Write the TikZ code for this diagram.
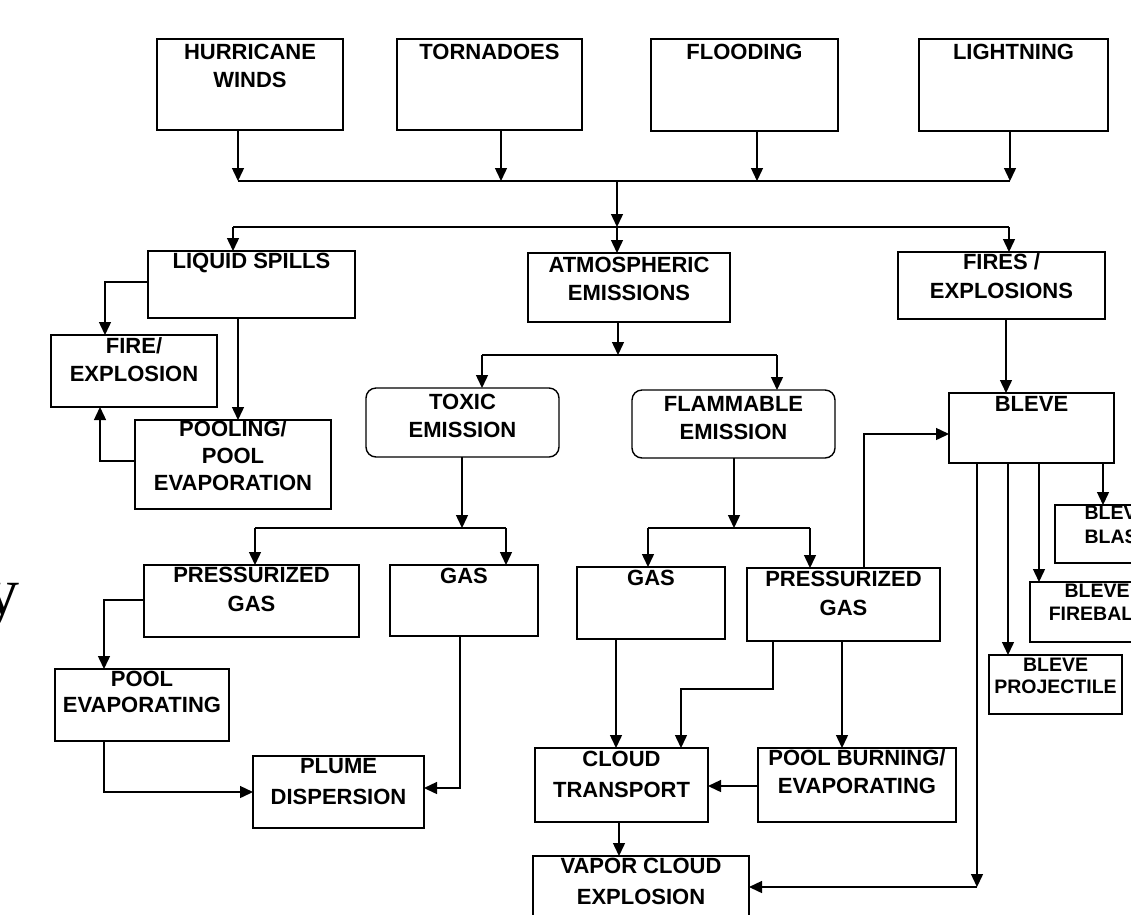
\documentclass[tikz,border=0pt]{standalone}
\usepackage{fontspec}
\setmainfont{Liberation Sans}
\newfontfamily\serifpart{Liberation Serif}
\usetikzlibrary{arrows.meta}
\def\firstbase{18pt}
\newcommand\bx[7][box]{%
  \node[#1] (#2) at ({(#3+#5)/2},{(#4+#6)/2})
  {\parbox[c][\dimexpr#6pt-#4pt\relax][t]{\dimexpr#5pt-#3pt\relax}{\centering\rule{0pt}{\firstbase}#7}};}
\begin{document}
\begin{tikzpicture}[x=1pt,y=-1pt,
  firstbase/.code={\def\firstbase{#1}},
  box/.style={draw, line width=1.4pt, inner sep=0pt, outer sep=0pt,
    font=\fontsize{22}{28}\selectfont\bfseries, firstbase=18pt},
  boxw/.style={box, font=\fontsize{22}{31}\selectfont\bfseries, firstbase=17pt},
  rbox/.style={box, rounded corners=10pt, firstbase=21pt},
  sbox/.style={box, font=\fontsize{19.5}{23}\selectfont\bfseries, firstbase=15pt},
  line/.style={line width=1.4pt},
  arr/.style={line, -{Triangle[length=13pt,width=12pt]}}]
\useasboundingbox (0,0) rectangle (1131,914);
\clip (0,0) rectangle (1131,914);

% boxes
\bx[box, firstbase=20pt]{HW}{157}{39}{343}{130}{HURRICANE\\WINDS}
\bx[box, firstbase=20pt]{TO}{397}{39}{582}{130}{TORNADOES}
\bx[box, firstbase=20pt]{FL}{651}{39}{838}{131}{FLOODING}
\bx[box, firstbase=20pt]{LI}{919}{39}{1108}{131}{LIGHTNING}
\bx[box, firstbase=17pt]{LS}{148}{251}{355}{318}{LIQUID SPILLS}
\bx[box, firstbase=19pt]{AE}{528}{253}{730}{322}{ATMOSPHERIC\\EMISSIONS}
\bx[box, firstbase=17pt, font=\fontsize{22}{29}\selectfont\bfseries]{FE}{898}{252}{1105}{319}{FIRES /\\EXPLOSIONS}
\bx{FX}{51}{335}{217}{407}{FIRE/\\EXPLOSION}
\bx[box, firstbase=16pt, font=\fontsize{22}{27}\selectfont\bfseries]{PO}{135}{420}{331}{509}{POOLING/\\POOL\\EVAPORATION}
\bx[rbox]{TE}{366}{388}{559}{457}{TOXIC\\EMISSION}
\bx[rbox]{FM}{632}{390}{835}{458}{FLAMMABLE\\EMISSION}
\bx{BL}{949}{393}{1114}{463}{BLEVE}
\bx[box, firstbase=17pt, font=\fontsize{22}{29}\selectfont\bfseries]{PGL}{144}{565}{359}{637}{PRESSURIZED\\GAS}
\bx{GL}{390}{565}{538}{636}{GAS}
\bx[box, firstbase=17pt, font=\fontsize{22}{26}\selectfont\bfseries]{PE}{55}{669}{229}{741}{POOL\\EVAPORATING}
\bx[boxw]{PD}{253}{756}{424}{828}{PLUME\\DISPERSION}
\bx{GR}{577}{567}{725}{639}{GAS}
\bx[box, font=\fontsize{22}{29}\selectfont\bfseries]{PGR}{747}{568}{940}{641}{PRESSURIZED\\GAS}
\bx[boxw, firstbase=18pt]{CT}{535}{748}{708}{822}{CLOUD\\TRANSPORT}
\bx[box, firstbase=17pt]{PB}{758}{748}{956}{822}{POOL BURNING/\\EVAPORATING}
\bx[boxw]{VC}{533}{856}{749}{930}{VAPOR CLOUD\\EXPLOSION}
\bx[sbox, firstbase=16pt, font=\fontsize{19.5}{22}\selectfont\bfseries]{BP}{989}{655}{1122}{714}{BLEVE\\PROJECTILE}
\bx[sbox]{BF}{1030}{582}{1164}{642}{BLEVE\\FIREBALL}
\bx[sbox, firstbase=14pt, font=\fontsize{19.5}{24}\selectfont\bfseries]{BB}{1055}{505}{1179}{563}{BLEVE\\BLAST}

\node[font=\serifpart\fontsize{68}{68}\selectfont, inner sep=0pt, anchor=base west] (ylet) at (-15,614) {y};

% top bus
\coordinate (j1) at (238,181);
\coordinate (j2) at (501,181);
\coordinate (j3) at (757,181);
\coordinate (j4) at (1010,181);
\draw[arr] (HW.south -| j1) -- (j1);
\draw[arr] (TO.south -| j2) -- (j2);
\draw[arr] (FL.south -| j3) -- (j3);
\draw[arr] (LI.south -| j4) -- (j4);
\draw[line] (j1) -- (j4);
\coordinate (m1) at (617,181);
\coordinate (m2) at (617,227);
\draw[arr] (m1) -- (m2);
% second bus
\coordinate (k1) at (233,227);
\coordinate (k3) at (1009,227);
\draw[line] (k1) -- (k3);
\draw[arr] (k1) -- (LS.north -| k1);
\draw[arr] (m2) -- (AE.north -| m2);
\draw[arr] (k3) -- (FE.north -| k3);

% liquid spills
\coordinate (c1) at (105,282);
\draw[arr] (LS.west |- c1) -- (c1) -- (FX.north -| c1);
\coordinate (c2) at (238,0);
\draw[arr] (LS.south -| c2) -- (PO.north -| c2);
\coordinate (c3) at (100,461);
\draw[arr] (PO.west |- c3) -- (c3) -- (FX.south -| c3);

% atmospheric
\coordinate (n1) at (618,355);
\coordinate (n0) at (482,355);
\coordinate (n2) at (777,355);
\draw[arr] (AE.south -| n1) -- (n1);
\draw[line] (n0) -- (n2);
\draw[arr] (n0) -- (TE.north -| n0);
\draw[arr] (n2) -- (FM.north -| n2);

% fires
\coordinate (e1) at (1006,0);
\draw[arr] (FE.south -| e1) -- (BL.north -| e1);

% toxic
\coordinate (t1) at (462,528);
\coordinate (t0) at (255,528);
\coordinate (t2) at (506,528);
\draw[arr] (TE.south -| t1) -- (t1);
\draw[line] (t0) -- (t2);
\draw[arr] (t0) -- (PGL.north -| t0);
\draw[arr] (t2) -- (GL.north -| t2);
\coordinate (p1) at (104,600);
\draw[arr] (PGL.west |- p1) -- (p1) -- (PE.north -| p1);
\coordinate (p2) at (104,792);
\draw[arr] (PE.south -| p2) -- (p2) -- (PD.west |- p2);
\coordinate (g1) at (460,788);
\draw[arr] (GL.south -| g1) -- (g1) -- (PD.east |- g1);

% flammable
\coordinate (f1) at (734,528);
\coordinate (f0) at (648,528);
\coordinate (f2) at (810,528);
\draw[arr] (FM.south -| f1) -- (f1);
\draw[line] (f0) -- (f2);
\draw[arr] (f0) -- (GR.north -| f0);
\draw[arr] (f2) -- (PGR.north -| f2);
\coordinate (q1) at (864,434);
\draw[arr] (PGR.north -| q1) -- (q1) -- (BL.west |- q1);
\coordinate (r1) at (616,0);
\draw[arr] (GR.south -| r1) -- (CT.north -| r1);
\coordinate (s1) at (773,689);
\coordinate (s2) at (681,689);
\draw[arr] (PGR.south -| s1) -- (s1) -- (s2) -- (CT.north -| s2);
\coordinate (u1) at (842,0);
\draw[arr] (PGR.south -| u1) -- (PB.north -| u1);
\coordinate (v1) at (0,786);
\draw[arr] (PB.west |- v1) -- (CT.east |- v1);
\coordinate (w1) at (619,0);
\draw[arr] (CT.south -| w1) -- (VC.north -| w1);

% bleve
\coordinate (z1) at (977,887);
\draw[arr] (BL.south -| z1) -- (z1);
\draw[arr] (z1) -- (VC.east |- z1);
\coordinate (h1) at (1008,0);
\coordinate (h2) at (1039,0);
\coordinate (h3) at (1103,0);
\draw[arr] (BL.south -| h1) -- (BP.north -| h1);
\draw[arr] (BL.south -| h2) -- (BF.north -| h2);
\draw[arr] (BL.south -| h3) -- (BB.north -| h3);
\end{tikzpicture}
\end{document}
